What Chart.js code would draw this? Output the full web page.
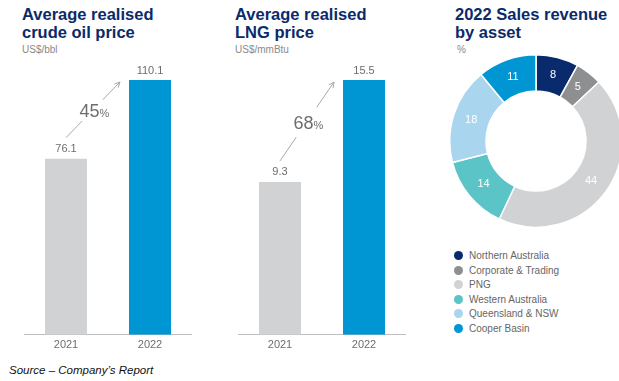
<!DOCTYPE html>
<html>
<head>
<meta charset="utf-8">
<script src="https://cdn.jsdelivr.net/npm/chart.js@4.4.0/dist/chart.umd.min.js"></script>
<style>
  html, body { margin: 0; padding: 0; background: #fff; }
  body { width: 619px; height: 381px; position: relative; overflow: hidden; font-family: "Liberation Sans", Arial, sans-serif; }
  .title { position: absolute; top: 5px; font-weight: bold; font-size: 16.5px; line-height: 18px; color: #0b2a6b; }
  .sub { position: absolute; top: 44px; font-size: 10px; color: #8a8a8a; }
  canvas { position: absolute; }
  #legend { position: absolute; left: 454px; top: 249px; font-size: 10px; color: #666; }
  #legend div { height: 14.5px; line-height: 14.5px; white-space: nowrap; }
  #legend span { display: inline-block; width: 9px; height: 9px; border-radius: 50%; margin-right: 6px; vertical-align: -1px; }
  .source { position: absolute; left: 9px; top: 364px; font-size: 11.5px; font-style: italic; color: #111; }
</style>
</head>
<body>
<div class="title" style="left:22px">Average realised<br>crude oil price</div>
<div class="sub" style="left:22px">US$/bbl</div>
<div class="title" style="left:235px">Average realised<br>LNG price</div>
<div class="sub" style="left:235px">US$/mmBtu</div>
<div class="title" style="left:455px">2022 Sales revenue<br>by asset</div>
<div class="sub" style="left:457px">%</div>

<canvas id="oilChart" style="left:24px; top:40px; width:168px; height:316px"></canvas>
<canvas id="lngChart" style="left:238px; top:40px; width:168px; height:316px"></canvas>
<canvas id="assetChart" style="left:449px; top:54px; width:174px; height:174px"></canvas>
<div id="legend"></div>
<div class="source">Source – Company’s Report</div>

<script>
// data
const years = ['2021', '2022'];
const oilPrice = [76.1, 110.1];
const lngPrice = [9.3, 15.5];
const oilChange = '45';
const lngChange = '68';
const assets = ['Northern Australia', 'Corporate & Trading', 'PNG', 'Western Australia', 'Queensland & NSW', 'Cooper Basin'];
const revenueShare = [8, 5, 44, 14, 18, 11];

const barColors = ['#d1d2d4', '#0095d3'];
const assetColors = ['#0a2a6e', '#8e8f91', '#d1d2d4', '#5bc4c7', '#a9d5ee', '#0095d3'];

// value labels above bars + growth arrow between them
function barLabels(change) {
    return {
        id: 'barLabels',
        afterDatasetsDraw(chart) {
            const ctx = chart.ctx;
            const bars = chart.getDatasetMeta(0).data;
            const values = chart.data.datasets[0].data;
            ctx.save();
            ctx.fillStyle = '#6d6d6d';
            ctx.font = '11px "Liberation Sans", Arial, sans-serif';
            ctx.textAlign = 'center';
            ctx.textBaseline = 'bottom';
            bars.forEach((b, i) => ctx.fillText(values[i].toFixed(1), b.x, b.y - 4));

            // arrow
            const x0 = bars[0].x, y0 = bars[0].y - 21;
            const x1 = bars[1].x - bars[1].width / 2 - 9, y1 = bars[1].y + 2;
            const pt = t => [x0 + (x1 - x0) * t, y0 + (y1 - y0) * t];
            ctx.strokeStyle = '#a8a8a8';
            ctx.lineWidth = 1;
            let a = pt(0), b = pt(0.3);
            ctx.beginPath(); ctx.moveTo(a[0], a[1]); ctx.lineTo(b[0], b[1]); ctx.stroke();
            a = pt(0.68); b = pt(1);
            ctx.beginPath(); ctx.moveTo(a[0], a[1]); ctx.lineTo(b[0], b[1]); ctx.stroke();
            const ang = Math.atan2(y1 - y0, x1 - x0);
            ctx.beginPath();
            ctx.moveTo(x1 - 6 * Math.cos(ang - 0.45), y1 - 6 * Math.sin(ang - 0.45));
            ctx.lineTo(x1, y1);
            ctx.lineTo(x1 - 6 * Math.cos(ang + 0.45), y1 - 6 * Math.sin(ang + 0.45));
            ctx.stroke();

            // percentage text
            const m = pt(0.49);
            ctx.fillStyle = '#6d6d6d';
            ctx.textBaseline = 'alphabetic';
            ctx.font = '18px "Liberation Sans", Arial, sans-serif';
            const w1 = ctx.measureText(change).width;
            ctx.font = '11px "Liberation Sans", Arial, sans-serif';
            const w2 = ctx.measureText('%').width;
            const left = m[0] - (w1 + w2) / 2 + 2;
            ctx.textAlign = 'left';
            ctx.font = '18px "Liberation Sans", Arial, sans-serif';
            ctx.fillText(change, left, m[1] + 7);
            ctx.font = '11px "Liberation Sans", Arial, sans-serif';
            ctx.fillText('%', left + w1, m[1] + 7);
            ctx.restore();
        }
    };
}

function barChart(id, values, change) {
    return new Chart(document.getElementById(id), {
        type: 'bar',
        data: {
            labels: years,
            datasets: [{
                data: values,
                backgroundColor: barColors,
                barPercentage: 0.5,
                categoryPercentage: 1
            }]
        },
        options: {
            responsive: false,
            animation: false,
            layout: { padding: { top: 40 } },
            plugins: { legend: { display: false }, tooltip: { enabled: false } },
            scales: {
                x: {
                    grid: { display: false, drawTicks: false },
                    border: { display: true, color: '#bdbdbd', width: 1 },
                    ticks: { color: '#6d6d6d', padding: 4, font: { size: 11, family: '"Liberation Sans", Arial, sans-serif' } }
                },
                y: { display: false, min: 0, max: Math.max(...values) }
            }
        },
        plugins: [barLabels(change)]
    });
}

barChart('oilChart', oilPrice, oilChange);
barChart('lngChart', lngPrice, lngChange);

// donut
new Chart(document.getElementById('assetChart'), {
    type: 'doughnut',
    data: {
        labels: assets,
        datasets: [{
            data: revenueShare,
            backgroundColor: assetColors,
            borderColor: '#ffffff',
            borderWidth: 1.5
        }]
    },
    options: {
        responsive: false,
        animation: false,
        cutout: '58%',
        plugins: { legend: { display: false }, tooltip: { enabled: false } }
    },
    plugins: [{
        id: 'sliceLabels',
        afterDatasetsDraw(chart) {
            const ctx = chart.ctx;
            ctx.save();
            ctx.fillStyle = '#ffffff';
            ctx.font = '11px "Liberation Sans", Arial, sans-serif';
            ctx.textAlign = 'center';
            ctx.textBaseline = 'middle';
            chart.getDatasetMeta(0).data.forEach((arc, i) => {
                const p = arc.tooltipPosition();
                ctx.fillText(String(revenueShare[i]), p.x, p.y);
            });
            ctx.restore();
        }
    }]
});

// legend
const legend = document.getElementById('legend');
assets.forEach((name, i) => {
    const row = document.createElement('div');
    row.innerHTML = '<span style="background:' + assetColors[i] + '"></span>' + name.replace('&', '&amp;');
    legend.appendChild(row);
});
</script>
</body>
</html>
